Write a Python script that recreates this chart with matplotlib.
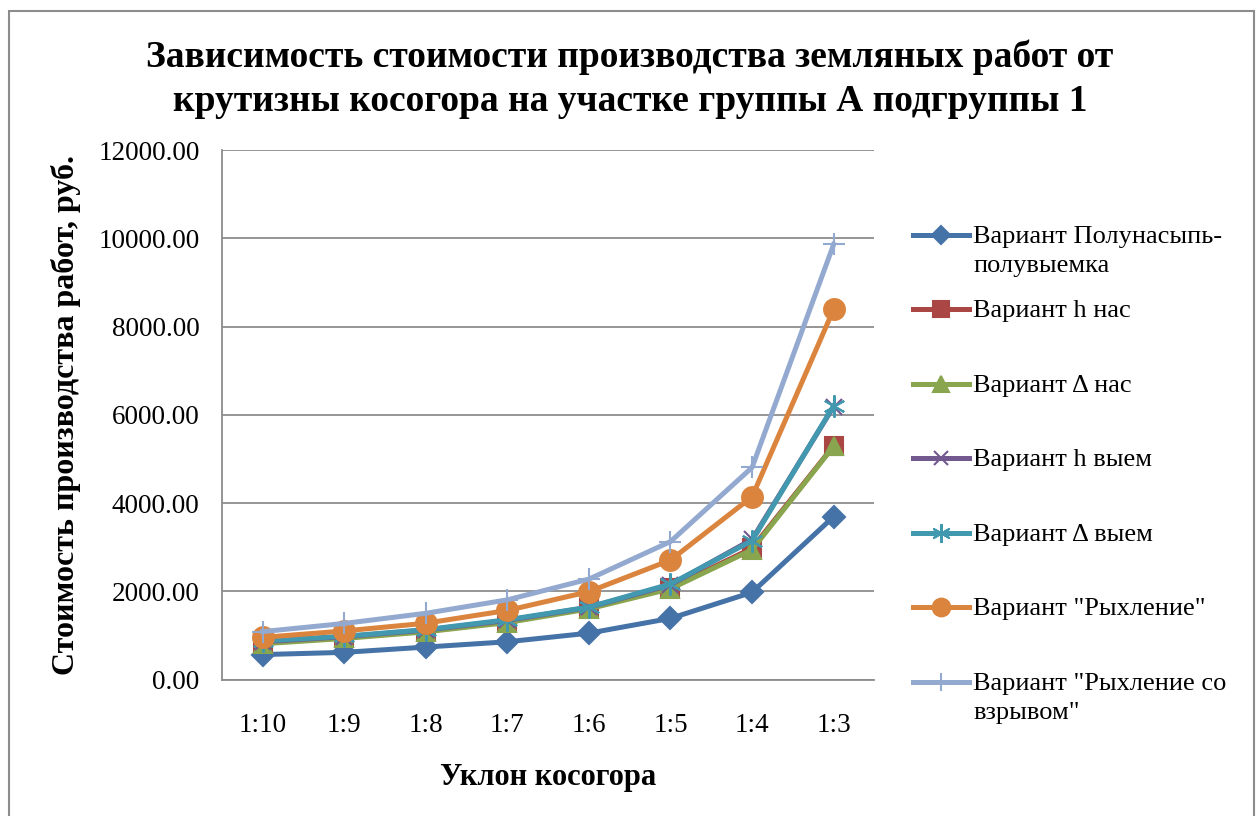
import matplotlib.pyplot as plt
from matplotlib.lines import Line2D
from matplotlib.patches import Rectangle

plt.rcParams['font.family'] = ['Liberation Serif', 'DejaVu Serif']

# Уклоны косогора и стоимость работ по вариантам, руб.
uklon = ['1:10', '1:9', '1:8', '1:7', '1:6', '1:5', '1:4', '1:3']
polunasyp = [570, 620, 740, 860, 1055, 1390, 1980, 3695]
h_nas = [830, 950, 1100, 1310, 1620, 2080, 2980, 5300]
d_nas = [815, 935, 1085, 1295, 1605, 2060, 2945, 5290]
h_vyem = [860, 975, 1125, 1345, 1640, 2150, 3180, 6190]
d_vyem = [880, 985, 1135, 1360, 1645, 2170, 3150, 6206]
ryhlenie = [960, 1105, 1280, 1570, 1995, 2710, 4145, 8394]
ryhl_vzryv = [1090, 1275, 1505, 1810, 2280, 3130, 4810, 9864]

serii = [
    ('Вариант Полунасыпь-\nполувыемка', polunasyp, '#4572A7', 'D', 11),
    ('Вариант h нас', h_nas, '#AA4643', 's', 13),
    ('Вариант Δ нас', d_nas, '#89A54E', '^', 13),
    ('Вариант h выем', h_vyem, '#71588F', 'x', 12),
    ('Вариант Δ выем', d_vyem, '#4198AF', (6, 2, 0), 16),
    ('Вариант "Рыхление"', ryhlenie, '#DB843D', 'o', 15),
    ('Вариант "Рыхление со\nвзрывом"', ryhl_vzryv, '#93A9CF', '+', 16),
]

W, H = 1260, 816
fig = plt.figure(figsize=(W / 100, H / 100), dpi=100)
ax = fig.add_axes([0.176, 0.167, 0.518, 0.649])

x = range(len(uklon))
for label, y, color, marker, ms in serii:
    ax.plot(x, y, color=color, lw=3.6, marker=marker, markersize=ms,
            markeredgecolor=color, markeredgewidth=1.5, label=label)

ax.set_xlim(-0.5, len(uklon) - 0.5)
ax.set_ylim(0, 12000)
ax.set_yticks(range(0, 12001, 2000))
ax.set_yticklabels([f'{v:.2f}' for v in range(0, 12001, 2000)])
ax.set_xticks(list(x))
ax.set_xticklabels(uklon)
ax.tick_params(axis='both', length=0, labelsize=19.5)
ax.tick_params(axis='x', pad=24)
ax.tick_params(axis='y', pad=16)

ax.grid(axis='y', color='#8c8c8c', lw=1.3)
ax.set_axisbelow(True)
for s in ['top', 'right']:
    ax.spines[s].set_visible(False)
for s in ['left', 'bottom']:
    ax.spines[s].set_color('#8c8c8c')
    ax.spines[s].set_linewidth(1.3)

ax.set_xlabel('Уклон косогора', fontsize=22, fontweight='bold', labelpad=18)
ax.set_ylabel('Стоимость производства работ, руб.', fontsize=23,
              fontweight='bold', labelpad=12)

fig.text(0.5, 0.903, 'Зависимость стоимости производства земляных работ от\n'
         'крутизны косогора на участке группы А подгруппы 1',
         ha='center', va='center', fontsize=27, fontweight='bold',
         linespacing=1.32)

# легенда справа: линия с маркером и подпись
leg_y = [235, 309, 384, 458, 533, 607, 682]
for (label, y, color, marker, ms), py in zip(serii, leg_y):
    yf = 1 - py / H
    fig.add_artist(Line2D([913 / W, 941 / W, 969 / W], [yf, yf, yf],
                          transform=fig.transFigure, color=color, lw=3.6,
                          marker=marker, markersize=ms * 0.85, markevery=[1],
                          markeredgecolor=color, markeredgewidth=1.5))
    fig.text(973 / W, 1 - (py - 9) / H, label, ha='left', va='top',
             fontsize=19, linespacing=1.42)

# рамка области диаграммы
fig.patches.append(Rectangle((0.007, -0.01), 0.988, 0.997, transform=fig.transFigure,
                             fill=False, edgecolor='#8c8c8c', lw=1.5))

plt.savefig('out.png', dpi=100)
